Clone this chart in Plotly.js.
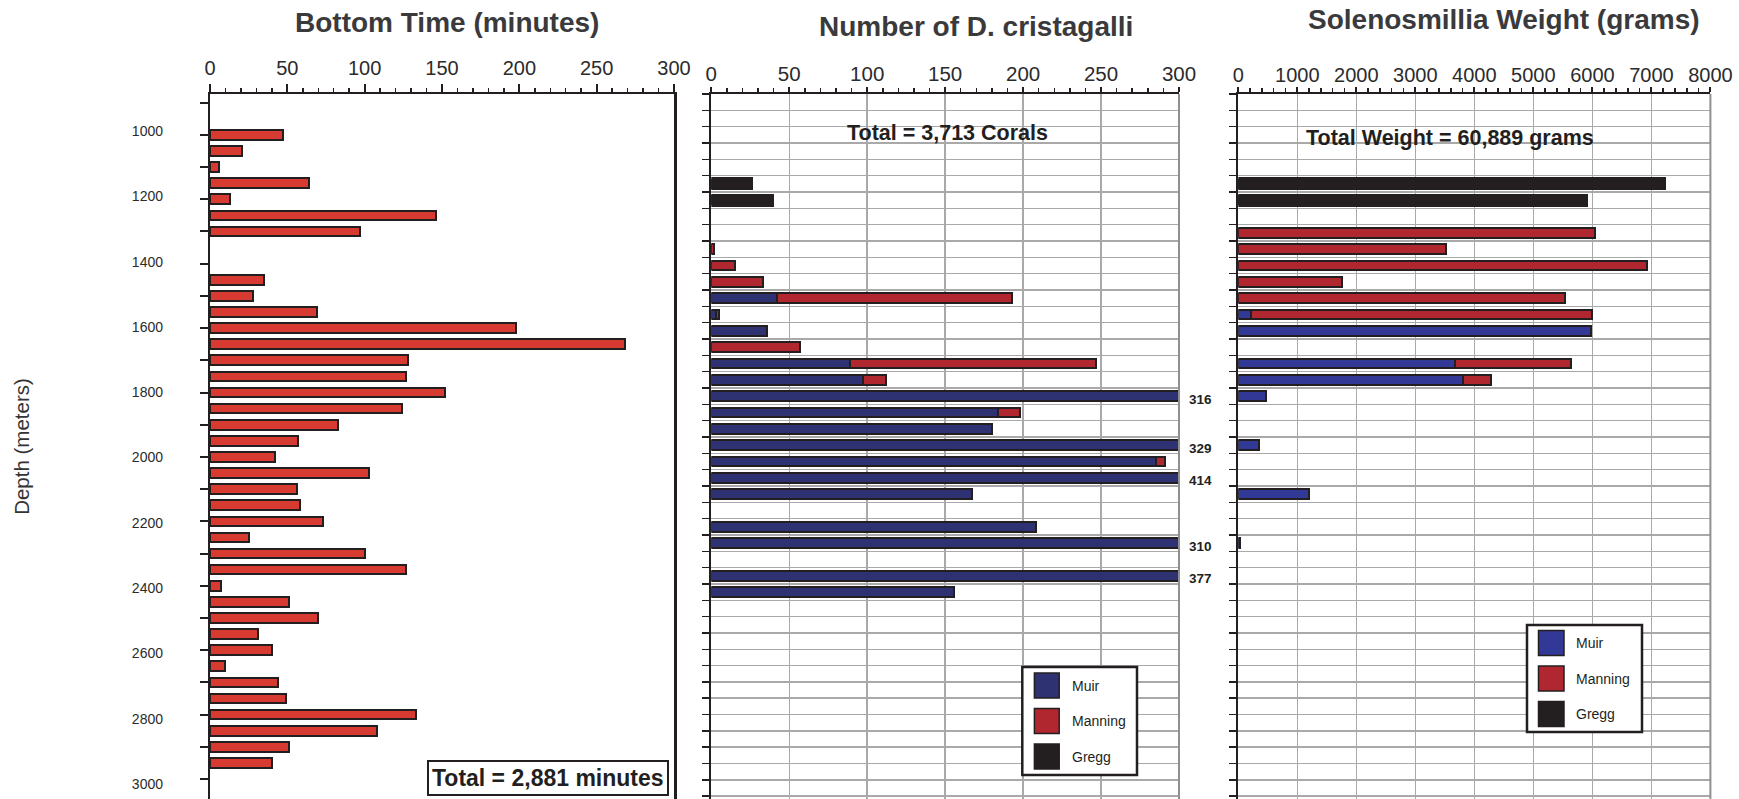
<!DOCTYPE html>
<html><head><meta charset="utf-8">
<script src="https://cdn.plot.ly/plotly-3.0.1.min.js"></script>
<style>html,body{margin:0;padding:0;background:#fff;}#chart{width:1739px;height:799px;}</style>
</head><body><div id="chart"></div>
<script>
// ---------------- data ----------------
const timeDepth = [1000,1050,1100,1150,1200,1250,1300,1450,1500,1550,1600,1650,1700,1750,1800,1850,1900,1950,2000,2050,2100,2150,2200,2250,2300,2350,2400,2450,2500,2550,2600,2650,2700,2750,2800,2850,2900,2950];
const bottomTime = [47,21,6,64,13,146,97,35,28,69,198,268,128,127,152,124,83,57,42,103,56,58,73,25,100,127,7,51,70,31,40,10,44,49,133,108,51,40];

const coralDepth   = [1150,1200,1350,1400,1450,1500,1550,1600,1650,1700,1750,1800,1850,1900,1950,2000,2050,2100,2200,2250,2350,2400];
const coralMuir    = [0,0,0,0,0,42,3,36,0,89,97,316,184,180,329,285,414,167,208,310,377,156];
const coralManning = [0,0,2,15,33,151,2,0,57,158,15,0,14,0,0,6,0,0,0,0,0,0];
const coralGregg   = [27,40,0,0,0,0,0,0,0,0,0,0,0,0,0,0,0,0,0,0,0,0];

const weightDepth   = [1150,1200,1300,1350,1400,1450,1500,1550,1600,1700,1750,1800,1950,2100,2250];
const weightMuir    = [0,0,0,0,0,0,0,210,5985,3675,3800,470,350,1200,30];
const weightManning = [0,0,6050,3520,6920,1760,5540,5784,0,1960,475,0,0,0,0];
const weightGregg   = [7240,5920,0,0,0,0,0,0,0,0,0,0,0,0,0];

const seriesNames = ['Muir','Manning','Gregg'];
const panelTitles = ['Bottom Time (minutes)','Number of D. cristagalli','Solenosmillia Weight (grams)'];
const totalTexts  = ['Total = 2,881 minutes','Total = 3,713 Corals','Total Weight = 60,889 grams'];

// ---------------- style ----------------
const W = 1739, H = 799;
const px = x => x / W, py = y => 1 - y / H;
const DARK = '#231f20', GRID = '#a9a9a9', TXT = '#2b2b2d', TITLE = '#3a3a3c';
const SANS = '"Liberation Sans", Arial, Helvetica, sans-serif';
const C1 = '#d63a30';
const BLUE2 = '#2e3172', BLUE3 = '#323896', RED2 = '#b0272f', BLACK = '#231f20';

const yTop = py(94);
const dom1 = [px(210), px(674)], dom2 = [px(711.3), px(1179)], dom3 = [px(1238.3), px(1710.4)];

function barTrace(x, y, color, width, xa, ya, name, lw) {
  return {type:'bar', orientation:'h', x:x, y:y, name:name, xaxis:xa, yaxis:ya,
    width:width, marker:{color:color, line:{color:DARK, width:lw}}, showlegend:false, hoverinfo:'x+y'};
}

const traces = [
  barTrace(bottomTime, timeDepth, C1, 30, 'x', 'y', 'Bottom time', 2),
  // invisible helper so the depth-label axis (y4) is drawn
  {type:'scatter', mode:'markers', x:[0, 0], y:[timeDepth[0], timeDepth[timeDepth.length-1]], xaxis:'x', yaxis:'y4',
   marker:{opacity:0, size:1}, hoverinfo:'skip', showlegend:false},
  barTrace(coralMuir, coralDepth, BLUE2, 30, 'x2', 'y2', seriesNames[0], 2),
  barTrace(coralManning, coralDepth, RED2, 30, 'x2', 'y2', seriesNames[1], 2),
  barTrace(coralGregg, coralDepth, BLACK, 40, 'x2', 'y2', seriesNames[2], 0),
  barTrace(weightMuir, weightDepth, BLUE3, 30, 'x3', 'y3', seriesNames[0], 2),
  barTrace(weightManning, weightDepth, RED2, 30, 'x3', 'y3', seriesNames[1], 2),
  barTrace(weightGregg, weightDepth, BLACK, 40, 'x3', 'y3', seriesNames[2], 0)
];

function topAxis(domain, range, dtick, minor, anchor, fsize, grid, tlen, standoff) {
  return {domain:domain, range:range, side:'top', anchor:anchor, tick0:0, dtick:dtick,
    ticks:'outside', ticklen:tlen, tickwidth:2, tickcolor:DARK,
    showline:true, linecolor:DARK, linewidth:2.5, zeroline:false,
    showgrid:grid, gridcolor:GRID, gridwidth:1.5,
    tickfont:{family:SANS, size:fsize, color:TXT}, ticklabelstandoff:standoff,
    minor:{dtick:minor, tick0:0, ticks:'outside', ticklen:4, tickwidth:1.5, tickcolor:DARK, showgrid:false},
    fixedrange:true};
}
const rowRange = [3033.5, 875];
function rowAxis(anchor) {
  return {domain:[0, yTop], range:rowRange, anchor:anchor, tick0:875, dtick:50,
    ticks:'outside', ticklen:7, tickwidth:1.5, tickcolor:DARK, showticklabels:false,
    showline:true, linecolor:DARK, linewidth:2.5, zeroline:false,
    showgrid:true, gridcolor:GRID, gridwidth:1.5, fixedrange:true};
}

const layout = {
  width:W, height:H, margin:{l:0, r:0, t:0, b:0},
  paper_bgcolor:'#fff', plot_bgcolor:'#fff', barmode:'stack', bargap:0,
  font:{family:SANS, color:TXT},
  xaxis: topAxis(dom1, [0,300], 50, 10, 'y', 20, false, 8, 1),
  // depth axis of the bottom-time panel: tick marks
  yaxis: {domain:[0, yTop], range:[3062, 873.3], anchor:'x', tick0:0, dtick:200,
    ticks:'outside', ticklen:8, tickwidth:2, tickcolor:DARK, showticklabels:false,
    showline:true, mirror:true, linecolor:DARK, linewidth:2.5, zeroline:false, showgrid:false,
    minor:{dtick:100, tick0:0, ticks:'outside', ticklen:8, tickwidth:2, tickcolor:DARK},
    fixedrange:true},
  // depth labels (printed on a slightly different scale in the original figure)
  yaxis4: {overlaying:'y', anchor:'x', side:'left', range:[3045.9, 886.7], tick0:0, dtick:200,
    ticks:'', showline:false, zeroline:false, showgrid:false,
    tickfont:{family:SANS, size:14, color:TXT}, ticklabelstandoff:46,
    title:{text:'Depth (meters)', font:{family:SANS, size:20.5, color:'#333'}, standoff:96},
    fixedrange:true},
  xaxis2: topAxis(dom2, [0,300], 50, 10, 'y2', 20.5, true, 5, -3),
  yaxis2: rowAxis('x2'),
  xaxis3: topAxis(dom3, [0,8000], 1000, 200, 'y3', 20, true, 5, -3),
  yaxis3: rowAxis('x3'),
  annotations: [],
  shapes: []
};

// panel titles
layout.annotations.push(
  {text:panelTitles[0], xref:'paper', yref:'paper', x:px(447), y:py(22), xanchor:'center', yanchor:'middle', showarrow:false,
   font:{family:SANS, size:28, color:TITLE, weight:'bold'}},
  {text:panelTitles[1], xref:'paper', yref:'paper', x:px(976), y:py(26.5), xanchor:'center', yanchor:'middle', showarrow:false,
   font:{family:SANS, size:28, color:TITLE, weight:'bold'}},
  {text:panelTitles[2], xref:'paper', yref:'paper', x:px(1503.5), y:py(20), xanchor:'center', yanchor:'middle', showarrow:false,
   font:{family:SANS, size:28, color:TITLE, weight:'bold'}}
);
// totals
layout.annotations.push(
  {text:totalTexts[0], xref:'paper', yref:'paper', x:px(548), y:py(778), xanchor:'center', yanchor:'middle', showarrow:false,
   font:{family:SANS, size:23, color:DARK, weight:'bold'}, bgcolor:'#fff', bordercolor:DARK, borderwidth:2, borderpad:3},
  {text:totalTexts[1], xref:'paper', yref:'paper', x:px(947), y:py(133), xanchor:'center', yanchor:'middle', showarrow:false,
   font:{family:SANS, size:21.5, color:DARK, weight:'bold'}},
  {text:totalTexts[2], xref:'paper', yref:'paper', x:px(1450), y:py(138), xanchor:'center', yanchor:'middle', showarrow:false,
   font:{family:SANS, size:21.5, color:DARK, weight:'bold'}}
);
// labels for counts beyond the axis range
coralDepth.forEach((d, i) => {
  if (coralMuir[i] > 300) {
    layout.annotations.push({text:String(coralMuir[i]), xref:'paper', yref:'y2', x:px(1187), y:d, yshift:-3,
      xanchor:'left', yanchor:'middle', showarrow:false, font:{family:SANS, size:13.5, color:DARK, weight:'bold'}});
  }
});

// right borders of panels 2 and 3
[['x2','y2'],['x3','y3']].forEach(([xa, ya]) => {
  layout.shapes.push({type:'line', xref:xa+' domain', yref:ya+' domain', x0:1, x1:1, y0:0, y1:1, line:{color:'#8f8f8f', width:2}});
});

// legends
function legendBox(box, swX, swW, swH, rowsY, textX, colors, fsize) {
  layout.shapes.push({type:'rect', xref:'paper', yref:'paper', x0:px(box[0]), x1:px(box[1]), y0:py(box[3]), y1:py(box[2]),
    fillcolor:'#fff', line:{color:DARK, width:2.5}});
  rowsY.forEach((cy, i) => {
    layout.shapes.push({type:'rect', xref:'paper', yref:'paper', x0:px(swX), x1:px(swX + swW), y0:py(cy + swH/2), y1:py(cy - swH/2),
      fillcolor:colors[i], line:{color:DARK, width:1.5}});
    layout.annotations.push({text:seriesNames[i], xref:'paper', yref:'paper', x:px(textX), y:py(cy), xanchor:'left', yanchor:'middle',
      showarrow:false, font:{family:SANS, size:fsize, color:DARK}});
  });
}
legendBox([1022.3, 1137, 667, 775], 1034.4, 24.8, 25, [685.5, 721, 756.5], 1069.5, [BLUE2, RED2, BLACK], 14);
legendBox([1527, 1642, 625, 732], 1538.5, 25.5, 25, [643, 678.5, 714], 1574, [BLUE3, RED2, BLACK], 14);

Plotly.newPlot('chart', traces, layout, {displayModeBar:false, staticPlot:true});
</script></body></html>
